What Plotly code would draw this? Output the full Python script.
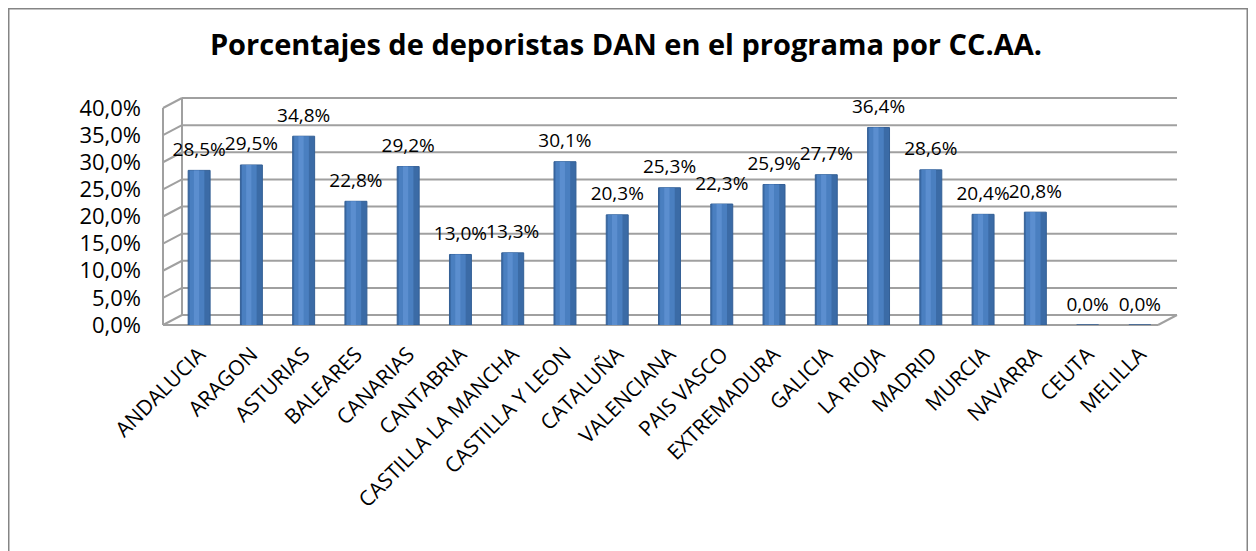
import plotly.graph_objects as go

categories = ["ANDALUCIA", "ARAGON", "ASTURIAS", "BALEARES", "CANARIAS", "CANTABRIA",
              "CASTILLA LA MANCHA", "CASTILLA Y LEON", "CATALUÑA", "VALENCIANA", "PAIS VASCO",
              "EXTREMADURA", "GALICIA", "LA RIOJA", "MADRID", "MURCIA", "NAVARRA", "CEUTA", "MELILLA"]
values = [0.285, 0.295, 0.348, 0.228, 0.292, 0.130, 0.133, 0.301, 0.203, 0.253, 0.223,
          0.259, 0.277, 0.364, 0.286, 0.204, 0.208, 0.0, 0.0]
y_ticks = [0, 0.05, 0.10, 0.15, 0.20, 0.25, 0.30, 0.35, 0.40]
y_max = 0.40

# figure geometry (pixels)
W, H = 1248, 543
L, R, T, B = 165, W - 1158, 100, H - 317
pw, ph = W - L - R, H - T - B

def px(x):
    return (x - L) / pw

def py_val(v, dy=0):
    return v / y_max + dy / ph

FRONT_L, BACK_L, BACK_R, FRONT_R = 155, 174, 1169, 1150
DY = 10
GRID = "#a0a0a0"

fig = go.Figure()
fig.add_trace(go.Bar(
    x=categories, y=values, width=0.42,
    marker=dict(color="#3b6ba6", line=dict(color="#335f95", width=1)),
    showlegend=False, hoverinfo="skip",
))
fig.add_trace(go.Bar(
    x=categories, y=values, width=0.28, offset=-0.18,
    marker=dict(color="#4a7fc0", line=dict(width=0)),
    showlegend=False, hoverinfo="skip",
))
fig.add_trace(go.Bar(
    x=categories, y=values, width=0.10, offset=-0.10,
    marker=dict(color="#5b8ecf", line=dict(width=0)),
    showlegend=False, hoverinfo="skip",
))
# data labels (raised above the cylinder caps)
fig.add_trace(go.Scatter(
    x=categories, y=values, mode="markers+text",
    marker=dict(size=14, opacity=0),
    texttemplate="%{y:.1%}", textposition="top center",
    textfont=dict(family="Open Sans", size=19, color="#000000"),
    cliponaxis=False, showlegend=False, hoverinfo="skip",
))

shapes = []
# back-wall gridlines and left-wall slants
for v in y_ticks:
    shapes.append(dict(type="line", xref="paper", yref="paper",
                       x0=px(FRONT_L), y0=py_val(v), x1=px(BACK_L), y1=py_val(v, DY),
                       line=dict(color=GRID, width=2), layer="below"))
    shapes.append(dict(type="line", xref="paper", yref="paper",
                       x0=px(BACK_L), y0=py_val(v, DY), x1=px(BACK_R), y1=py_val(v, DY),
                       line=dict(color=GRID, width=2), layer="below"))
# left wall verticals
for xx, dy in ((FRONT_L, 0), (BACK_L, DY)):
    shapes.append(dict(type="line", xref="paper", yref="paper",
                       x0=px(xx), y0=py_val(0, dy), x1=px(xx), y1=py_val(y_max, dy),
                       line=dict(color=GRID, width=2), layer="below"))
# floor front edge and right slant
shapes.append(dict(type="line", xref="paper", yref="paper",
                   x0=px(FRONT_L), y0=py_val(0), x1=px(FRONT_R), y1=py_val(0),
                   line=dict(color=GRID, width=2), layer="below"))
shapes.append(dict(type="line", xref="paper", yref="paper",
                   x0=px(FRONT_R), y0=py_val(0), x1=px(BACK_R), y1=py_val(0, DY),
                   line=dict(color=GRID, width=2), layer="below"))
# chart frame
shapes.append(dict(type="rect", xref="paper", yref="paper",
                   x0=px(0), x1=px(W - 8), y0=-(B + 30) / ph, y1=1 + (T - 0) / ph,
                   line=dict(color="#858585", width=3), fillcolor="rgba(0,0,0,0)", layer="below"))

fig.update_layout(
    width=W, height=H,
    margin=dict(l=L, r=R, t=T, b=B, autoexpand=False),
    paper_bgcolor="white", plot_bgcolor="white",
    barmode="overlay",
    separators=",.",
    title=dict(text="<b>Porcentajes de deporistas DAN en el programa por CC.AA.</b>",
               x=618 / W, xref="container", xanchor="center",
               y=1 - 37 / H, yref="container", yanchor="middle",
               font=dict(family="Open Sans", size=29, color="#000000")),
    font=dict(family="Open Sans", color="#000000"),
    xaxis=dict(tickangle=-45, tickfont=dict(size=21), showgrid=False,
               showline=False, ticks="", ticklabelstandoff=12,
               range=[-0.5, len(categories) - 0.5]),
    yaxis=dict(range=[0, y_max], tickvals=y_ticks, tickformat=".1%",
               tickfont=dict(size=22), showgrid=False,
               zeroline=False, showline=False, ticklabelstandoff=31),
    shapes=shapes,
)

fig.write_html("out.html")
